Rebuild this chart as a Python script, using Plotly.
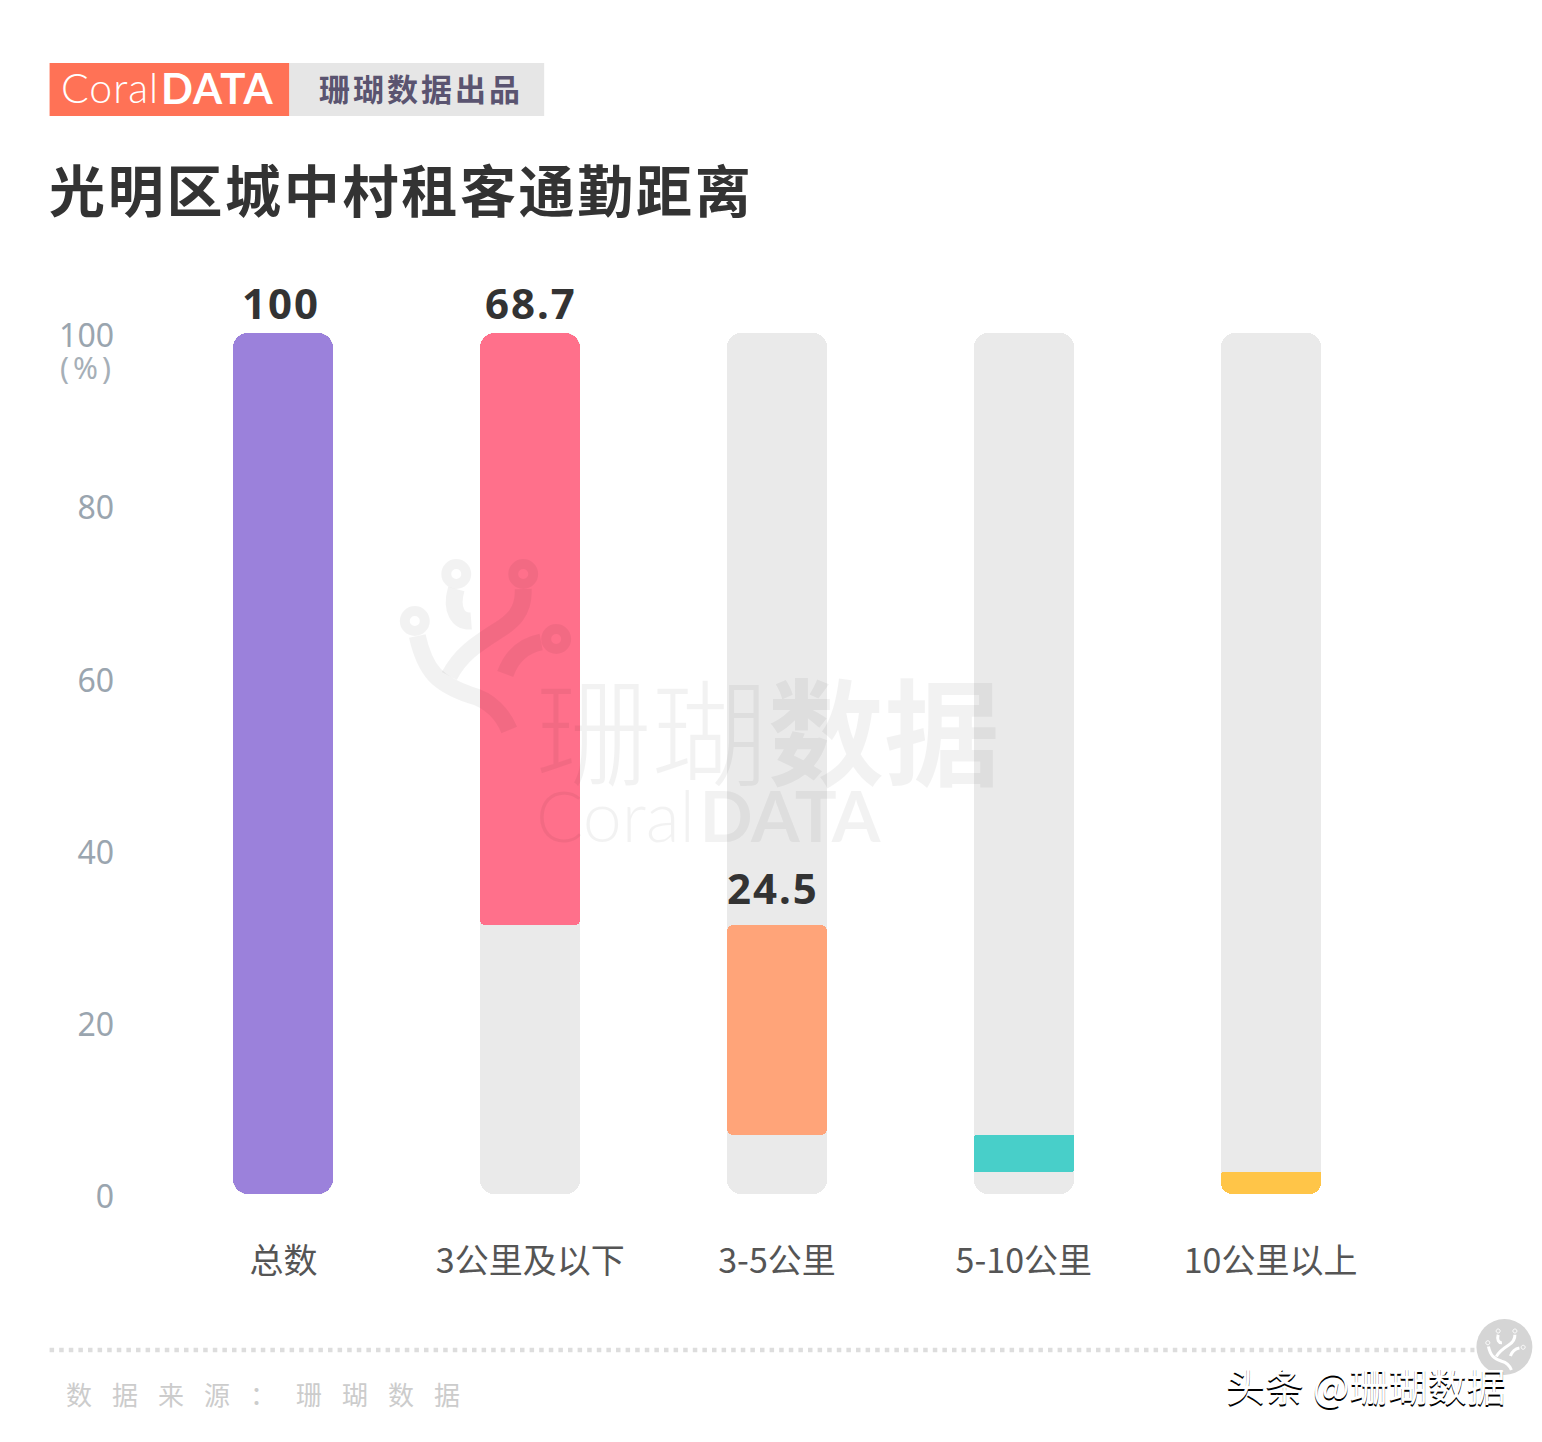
import plotly.graph_objects as go

#the page puts the figure 8px in from the corner
OFF=8
W=1542-2*OFF
H=1442-2*OFF
#plot area in figure pixels
L=159.5-OFF
R=1394.5-OFF
T=333-OFF
B=1194-OFF

categories=['总数','3公里及以下','3-5公里','5-10公里','10公里以上']
values=[100,68.7,24.5,4.2,2.6]
labels=['100','68.7','24.5','','']
colors=['#9B81DB','#FF708B','#FFA479','#48CFC9','#FFC548']
top_radius=[15,15,6,2,2]
bottom_radius=[15,5,6,2,13]
y_ticks=[0,20,40,60,80,100]

#page pixel -> paper
def px(x):
    return (x-OFF-L)/(R-L)
def py(y):
    return (B-(y-OFF))/(B-T)

#each stacked bar starts where the last one ended, the total starts at 100
tops=[100,100]
for v in values[1:-1]:
    tops.append(tops[-1]-v)
bottoms=[t-v for t,v in zip(tops,values)]

fig=go.Figure()

def piece(x,low,high,color,r):
    fig.add_trace(go.Bar(x=[x],y=[high-low],base=[low],width=0.405,marker_color=color,
                         marker_cornerradius=r,marker_line_width=0,showlegend=False))

def add_bar(x,top,bottom,color,r_top,r_bottom):
    #a bar with a base gets the same radius on both ends, two overlapping pieces when they differ
    if r_top==r_bottom:
        piece(x,bottom,top,color,r_top)
        return
    mid=(top+bottom)/2
    if r_top<r_bottom:
        piece(x,bottom,top,color,r_bottom)
    else:
        piece(x,bottom,(mid+top)/2,color,r_bottom)
    piece(x,mid,top,color,r_top)

for c in categories:
    piece(c,0,100,'#EAEAEA',14)
for c,t,b,col,rt,rb in zip(categories,tops,bottoms,colors,top_radius,bottom_radius):
    add_bar(c,t,b,col,rt,rb)

def text(x,y,s,size,color,anchor='left',weight=None,family='Noto Sans CJK SC',**kw):
    fig.add_annotation(xref='paper',yref='paper',x=px(x),y=py(y),text=s,showarrow=False,
                       xanchor=anchor,yanchor='middle',align='left',
                       font=dict(size=size,color=color,family=family,weight=weight),**kw)

#value labels
label_yshift=[31,31,37]
label_xshift=[-2,1,-4]
for c,t,s,sy,sx in zip(categories,tops,labels,label_yshift,label_xshift):
    fig.add_annotation(x=c,y=t,text='<span style="letter-spacing:2px">'+s+'</span>',showarrow=False,
                       yanchor='middle',yshift=sy,xshift=sx,
                       font=dict(size=42,color='#333333',family='Noto Sans',weight='bold'))

text(57,367,'<span style="letter-spacing:4px">(%)</span>',30,'#A6AFB7',family='Noto Sans')

#logo
fig.add_shape(type='rect',xref='paper',yref='paper',x0=px(49),x1=px(289),y0=py(63),y1=py(116),fillcolor='#FF7256',line_width=0)
fig.add_shape(type='rect',xref='paper',yref='paper',x0=px(289),x1=px(544),y0=py(63),y1=py(116),fillcolor='#E6E6E6',line_width=0)
text(58,88,'<span style="letter-spacing:1px">Coral</span>',41,'#FFFFFF',family='Lato',weight=300)
text(158,88,'<span style="letter-spacing:1px">DATA</span>',42,'#FFFFFF',family='Lato',weight='bold')
text(317,88,'<span style="letter-spacing:3px">珊瑚数据出品</span>',31,'#5A5470',weight='bold')

#title
text(46,187,'<span style="letter-spacing:2.7px">光明区城中村租客通勤距离</span>',56,'#333333',weight='bold')

#footer
fig.add_shape(type='line',xref='paper',yref='paper',x0=px(49),x1=px(1475),y0=py(1350),y1=py(1350),
              line=dict(color='#DDDDDD',width=4.5,dash='4.5px,5.1px'))
text(63,1393,'<span style="letter-spacing:20px">数据来源：珊瑚数据</span>',26,'#CCCCCC')

#watermark, sits over the bars
mark='rgba(0,0,0,0.05)'
def circle(cx,cy,r):
    k=0.5523*r
    return (f'M {px(cx-r)} {py(cy)} C {px(cx-r)} {py(cy-k)} {px(cx-k)} {py(cy-r)} {px(cx)} {py(cy-r)} '
            f'C {px(cx+k)} {py(cy-r)} {px(cx+r)} {py(cy-k)} {px(cx+r)} {py(cy)} '
            f'C {px(cx+r)} {py(cy+k)} {px(cx+k)} {py(cy+r)} {px(cx)} {py(cy+r)} '
            f'C {px(cx-k)} {py(cy+r)} {px(cx-r)} {py(cy+k)} {px(cx-r)} {py(cy)} Z')
def curve(pts):
    s=f'M {px(pts[0][0])} {py(pts[0][1])}'
    for i in range(1,len(pts)-2,3):
        s+=' C '+' '.join(f'{px(a)} {py(b)}' for a,b in pts[i:i+3])
    return s

def coral_icon(ox,oy,scale,color,width,ring,ring_w):
    def t(p):
        return [(ox+a*scale,oy+b*scale) for a,b in p]
    branches=[[(456,589),(450,610),(458,622),(471,621)],
              [(417,636),(425,672),(438,684),(470,695),(490,700),(503,715),(509,730)],
              [(523,589),(524,612),(512,622),(497,631),(475,645),(460,655),(449,676)],
              [(541,642),(525,645),(512,655),(505,674)]]
    for b in branches:
        fig.add_shape(type='path',xref='paper',yref='paper',path=curve(t(b)),
                      line=dict(color=color,width=width,),fillcolor='rgba(0,0,0,0)',layer='above')
    for cx,cy in [(456,574),(414.5,621),(523,574),(556,639)]:
        c=t([(cx,cy)])[0]
        fig.add_shape(type='path',xref='paper',yref='paper',path=circle(c[0],c[1],ring),
                      line=dict(color=color,width=ring_w),fillcolor='rgba(0,0,0,0)',layer='above')

coral_icon(0,0,1,mark,17,10,10)
text(534,749,
     '<span style="font-size:116px;font-weight:300">珊瑚</span>'
     '<span style="font-size:116px;font-weight:700">数据</span><br>'
     '<span style="font-size:70px;font-family:Lato;font-weight:300">Coral\u200a</span>'
     '<span style="font-size:70px;font-family:Lato;font-weight:700">DATA</span>',
     50,mark)

#small round mark bottom right
fig.add_shape(type='circle',xref='paper',yref='paper',x0=px(1477),x1=px(1533),y0=py(1319),y1=py(1375),
              fillcolor='#D5D5D5',line_width=0)
coral_icon(1506-485*0.25,1350-650*0.25,0.25,'#FFFFFF',3,2,1)

#platform stamp
text(1224,1384,'头条 @珊瑚数据',39,'#FFFFFF')
fig.layout.annotations[-1].font.shadow='0 2px 0 #000000'

fig.update_layout(
    width=W,height=H,
    margin=dict(l=L,r=W-R,t=T,b=H-B),
    barmode='overlay',
    paper_bgcolor='#FFFFFF',plot_bgcolor='#FFFFFF',
    bargap=0,
    xaxis=dict(categoryorder='array',categoryarray=categories,showgrid=False,zeroline=False,showline=False,
               ticks='',ticklabelstandoff=44,
               tickfont=dict(size=34,color='#555555',family='Noto Sans CJK SC')),
    yaxis=dict(range=[0,100],tickvals=y_ticks,showgrid=False,zeroline=False,showline=False,
               ticks='',ticklabelstandoff=45,ticklabelshift=3,
               tickfont=dict(size=32,color='#9AA5AF',family='Noto Sans')),
)

fig.write_html("out.html")
